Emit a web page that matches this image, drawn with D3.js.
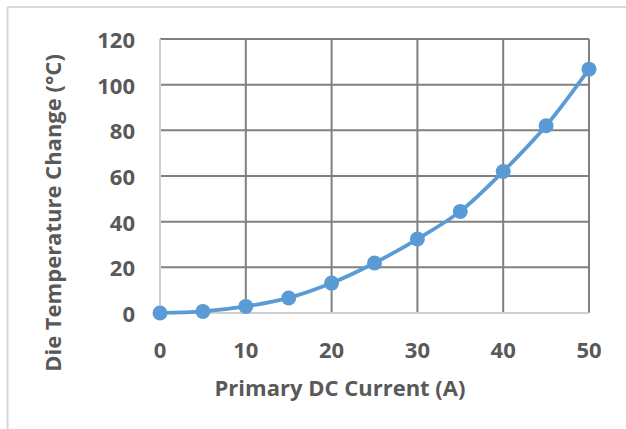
<!DOCTYPE html>
<html>
<head>
<meta charset="utf-8">
<script src="https://cdn.jsdelivr.net/npm/d3@7"></script>
<style>
  html, body { margin: 0; padding: 0; background: #fff; }
  svg { display: block; }
</style>
</head>
<body>
<svg id="chart" width="626" height="429"></svg>
<script>
const currents = [0, 5, 10, 15, 20, 25, 30, 35, 40, 45, 50];
const tempChange = [0, 0.7, 2.9, 6.6, 13.1, 21.9, 32.4, 44.5, 62.0, 82.0, 106.8];
const xTicks = [0, 10, 20, 30, 40, 50];
const yTicks = [0, 20, 40, 60, 80, 100, 120];
const xTitle = "Primary DC Current (A)";
const yTitle = "Die Temperature Change (°C)";

(function () {
const svg = d3.select("#chart");
const W = 626, H = 429;
const pLeft = 160, pRight = 589, pTop = 39, pBottom = 313;
const font = "'Open Sans', sans-serif";
const textColor = "#595959";
const gridColor = "#808080";
const lineColor = "#5B9BD5";

// outer frame (top and left visible)
svg.append("line").attr("x1", 7.5).attr("x2", W).attr("y1", 7).attr("y2", 7)
  .attr("stroke", "#d9d9d9").attr("stroke-width", 2);
svg.append("line").attr("x1", 7.5).attr("x2", 7.5).attr("y1", 7).attr("y2", H)
  .attr("stroke", "#d9d9d9").attr("stroke-width", 2);

const x = d3.scaleLinear().domain([0, 50]).range([pLeft, pRight]);
const y = d3.scaleLinear().domain([0, 120]).range([pBottom, pTop]);

// grid
const g = svg.append("g");
g.selectAll(".vg").data(xTicks.filter(d => d !== 0)).enter().append("line")
  .attr("x1", d => x(d)).attr("x2", d => x(d))
  .attr("y1", pTop).attr("y2", pBottom)
  .attr("stroke", gridColor).attr("stroke-width", 2);
g.selectAll(".hg").data(yTicks.filter(d => d !== 0)).enter().append("line")
  .attr("x1", pLeft).attr("x2", pRight)
  .attr("y1", d => y(d)).attr("y2", d => y(d))
  .attr("stroke", gridColor).attr("stroke-width", 2);
// axis lines (light)
svg.append("line").attr("x1", pLeft).attr("x2", pLeft).attr("y1", pTop).attr("y2", pBottom)
  .attr("stroke", "#d0d0d0").attr("stroke-width", 2);
svg.append("line").attr("x1", pLeft).attr("x2", pRight).attr("y1", pBottom).attr("y2", pBottom)
  .attr("stroke", "#d0d0d0").attr("stroke-width", 2);

// tick labels
svg.selectAll(".xt").data(xTicks).enter().append("text")
  .attr("x", d => x(d)).attr("y", 349)
  .attr("text-anchor", "middle").attr("dominant-baseline", "central")
  .attr("font-family", font).attr("font-weight", "bold").attr("font-size", 22)
  .attr("fill", textColor).text(d => d);
svg.selectAll(".yt").data(yTicks).enter().append("text")
  .attr("x", 135).attr("y", d => y(d))
  .attr("text-anchor", "end").attr("dominant-baseline", "central")
  .attr("font-family", font).attr("font-weight", "bold").attr("font-size", 22)
  .attr("fill", textColor).text(d => d);

// titles
svg.append("text").attr("x", 340).attr("y", 387)
  .attr("text-anchor", "middle").attr("dominant-baseline", "central")
  .attr("font-family", font).attr("font-weight", "bold").attr("font-size", 22)
  .attr("fill", textColor).text(xTitle);
svg.append("text")
  .attr("transform", "translate(52,213) rotate(-90)")
  .attr("text-anchor", "middle").attr("dominant-baseline", "central")
  .attr("font-family", font).attr("font-weight", "bold").attr("font-size", 22)
  .attr("fill", textColor).text(yTitle);

// series
const data = currents.map((c, i) => ({x: c, y: tempChange[i]}));
const line = d3.line().x(d => x(d.x)).y(d => y(d.y)).curve(d3.curveCatmullRom.alpha(0.5));
svg.append("path").datum(data).attr("d", line)
  .attr("fill", "none").attr("stroke", lineColor).attr("stroke-width", 3.75)
  .attr("stroke-linejoin", "round");
svg.selectAll(".pt").data(data).enter().append("circle")
  .attr("cx", d => x(d.x)).attr("cy", d => y(d.y)).attr("r", 7.5)
  .attr("fill", lineColor);
})();
</script>
</body>
</html>
